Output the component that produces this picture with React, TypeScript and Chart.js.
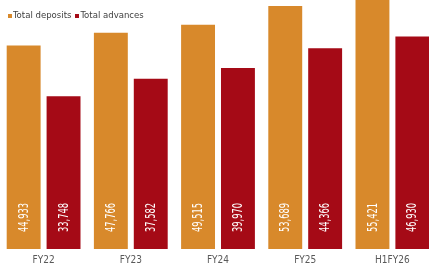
import React, { useEffect, useRef } from "react";
import { Chart, registerables } from "chart.js";

Chart.register(...registerables);

const categories = ["FY22", "FY23", "FY24", "FY25", "H1FY26"];
const totalDeposits = [44933, 47766, 49515, 53689, 55421];
const totalAdvances = [33748, 37582, 39970, 44366, 46930];
const seriesNames = ["Total deposits", "Total advances"];
const seriesColors = ["#D8892B", "#A50A16"];

const FONT = "'DejaVu Sans Condensed', 'Liberation Sans Narrow', sans-serif";

const valueLabels = {
  id: "valueLabels",
  afterDatasetsDraw(chart: any) {
    const ctx = chart.ctx;
    ctx.save();
    ctx.fillStyle = "#ffffff";
    ctx.font = `14px ${FONT}`;
    ctx.textAlign = "left";
    ctx.textBaseline = "middle";
    chart.data.datasets.forEach((ds: any, di: number) => {
      const meta = chart.getDatasetMeta(di);
      meta.data.forEach((bar: any, i: number) => {
        const v = ds.data[i] as number;
        ctx.save();
        ctx.translate(bar.x + 0.5, bar.base - 17);
        ctx.rotate(-Math.PI / 2);
        ctx.scale(0.66, 1);
        ctx.fillText(v.toLocaleString("en-US"), 0, 0);
        ctx.restore();
      });
    });
    ctx.restore();
  },
};

export default function App() {
  const ref = useRef<HTMLCanvasElement | null>(null);
  useEffect(() => {
    if (!ref.current) return;
    const chart = new Chart(ref.current, {
      type: "bar",
      data: {
        labels: categories,
        datasets: [
          { label: seriesNames[0], data: totalDeposits, backgroundColor: seriesColors[0] },
          { label: seriesNames[1], data: totalAdvances, backgroundColor: seriesColors[1] },
        ],
      },
      options: {
        animation: false,
        responsive: false,
        layout: { padding: 0 },
        datasets: { bar: { categoryPercentage: 0.915, barPercentage: 0.85 } } as any,
        plugins: { legend: { display: false }, tooltip: { enabled: false } },
        scales: {
          x: {
            grid: { display: false, drawTicks: false },
            border: { display: false },
            ticks: { color: "#595959", font: { family: FONT, size: 10 }, padding: 5 },
            afterFit(scale: any) {
              scale.height = 26;
            },
          },
          y: { display: false, min: 0, max: 55000 },
        },
      },
      plugins: [valueLabels],
    });
    return () => chart.destroy();
  }, []);

  return (
    <div style={{ position: "fixed", left: 0, top: 0, width: 429, height: 275, overflow: "hidden", background: "#fff" }}>
      <canvas ref={ref} width={436} height={275} style={{ position: "absolute", left: 0, top: 0, width: 436, height: 275 }} />
      <div
        style={{
          position: "absolute",
          left: 8,
          top: 9,
          display: "flex",
          alignItems: "center",
          fontFamily: FONT,
          fontSize: 9.5,
          color: "#404040",
          whiteSpace: "nowrap",
          lineHeight: "11px",
        }}
      >
        {seriesNames.map((n, i) => (
          <span key={n} style={{ display: "flex", alignItems: "center", marginRight: 4 }}>
            <span style={{ display: "inline-block", width: 4, height: 4, background: seriesColors[i], marginRight: 1, marginTop: 2 }} />
            {n}
          </span>
        ))}
      </div>
    </div>
  );
}
